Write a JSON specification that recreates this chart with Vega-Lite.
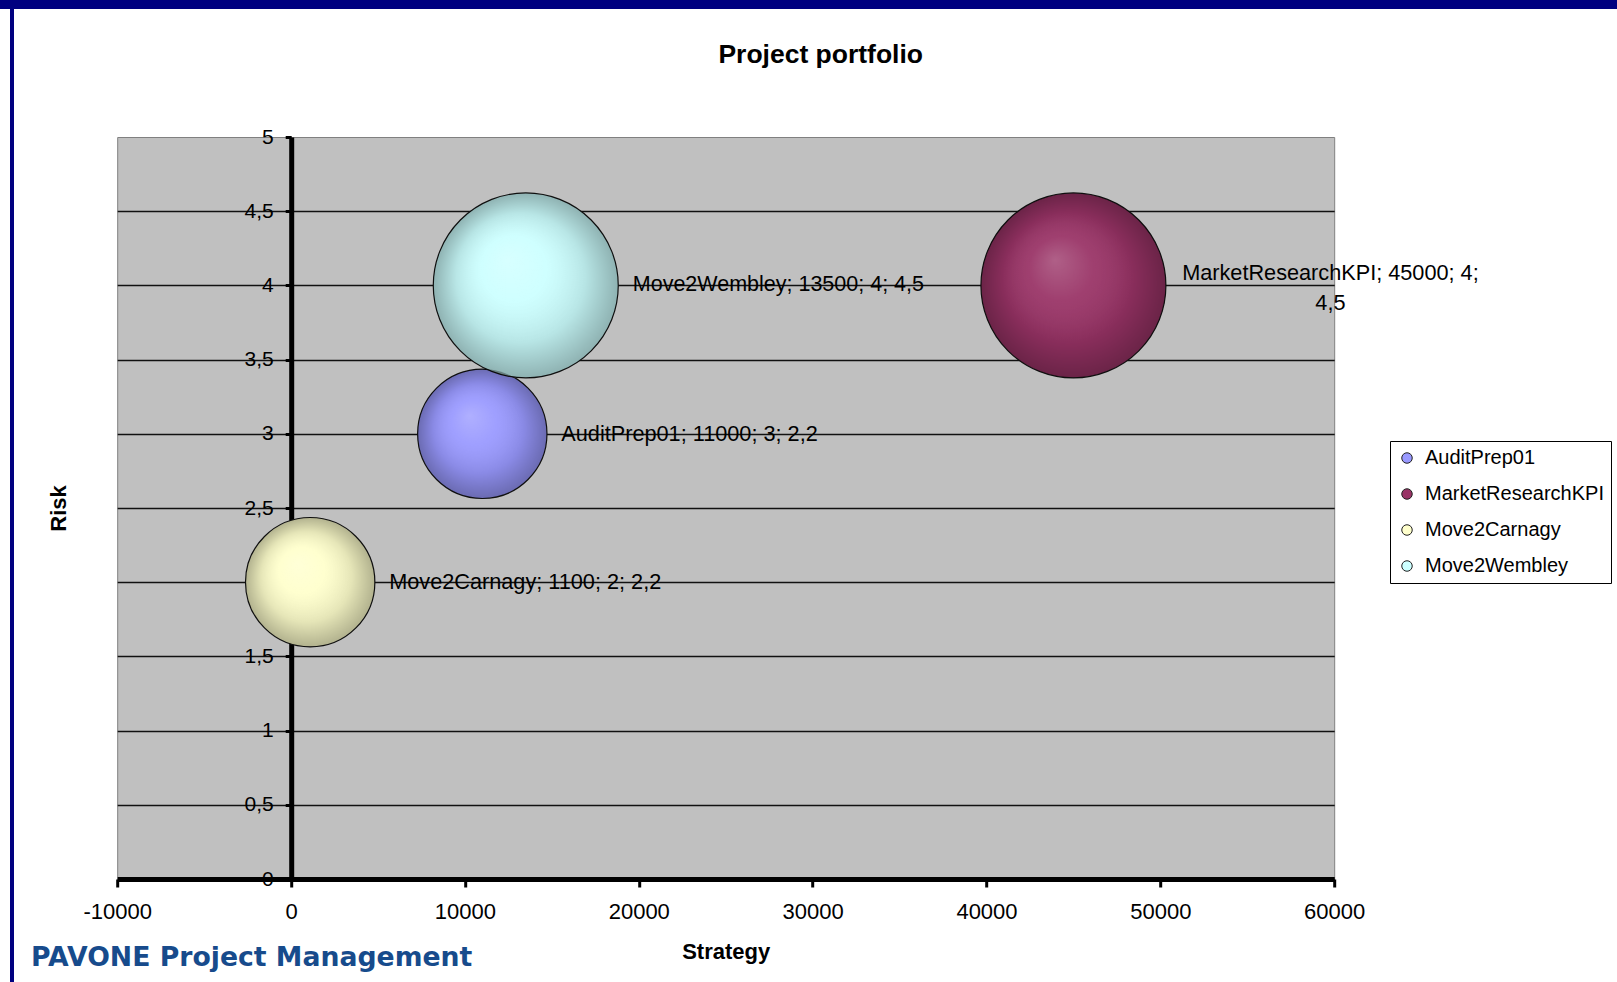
{
  "$schema": "https://vega.github.io/schema/vega-lite/v6.json",
  "padding": 0,
  "background": "white",
  "config": {"font": "Liberation Sans", "view": {"stroke": null}},
  "spacing": 0,
  "vconcat": [
    {
      "width": 1617, "height": 9,
      "data": {"values": []},
      "mark": "rect",
      "view": {"fill": "#000080", "stroke": null}
    },
    {
      "columns": 2,
      "bounds": "flush",
      "spacing": {"row": 0, "column": 117.2},
      "title": {"text": "PAVONE Project Management", "orient": "bottom", "anchor": "start", "frame": "bounds", "offset": -16, "dx": 31, "baseline": "alphabetic", "font": "DejaVu Sans", "fontSize": 26.7, "fontWeight": "bold", "color": "#174b8c"},
      "concat": [
        {
          "spacing": 0,
          "hconcat": [
            {"width": 10, "height": 128, "data": {"values": []}, "mark": "rect", "view": {"stroke": null}},
            {"width": 4, "height": 128, "data": {"values": []}, "mark": "rect", "view": {"fill": "#000080", "stroke": null}}
          ]
        },
        {"width": 1217, "height": 128, "data": {"values": []}, "mark": "rect", "view": {"stroke": null}},
        {
          "spacing": 0,
          "hconcat": [
            {"width": 10, "height": 845, "data": {"values": []}, "mark": "rect", "view": {"stroke": null}},
            {"width": 4, "height": 845, "data": {"values": []}, "mark": "rect", "view": {"fill": "#000080", "stroke": null}}
          ]
        },
        {
          "width": 1217,
          "height": 742,
          "view": {"fill": "#c0c0c0", "stroke": "#808080", "strokeWidth": 1},
          "title": {"text": "Project portfolio", "anchor": "middle", "frame": "group", "dx": 95, "baseline": "bottom", "offset": 31, "fontSize": 26.5, "fontWeight": "bold", "color": "black"},
          "data": {"values": [
            {"name": "AuditPrep01", "strategy": 11000, "risk": 3, "size": 2.2, "label": "AuditPrep01; 11000; 3; 2,2"},
            {"name": "MarketResearchKPI", "strategy": 45000, "risk": 4, "size": 4.5, "label": "MarketResearchKPI; 45000; 4;\n4,5"},
            {"name": "Move2Carnagy", "strategy": 1100, "risk": 2, "size": 2.2, "label": "Move2Carnagy; 1100; 2; 2,2"},
            {"name": "Move2Wembley", "strategy": 13500, "risk": 4, "size": 4.5, "label": "Move2Wembley; 13500; 4; 4,5"}
          ]},
          "encoding": {
            "x": {"field": "strategy", "type": "quantitative",
              "scale": {"domain": [-10000, 60000], "nice": false, "zero": false},
              "axis": {"title": "Strategy", "values": [-10000, 0, 10000, 20000, 30000, 40000, 50000, 60000],
                "labelExpr": "datum.value < 0 ? '-' + abs(datum.value) : '' + datum.value",
                "grid": false, "domainColor": "black", "domainWidth": 5, "tickColor": "black", "tickWidth": 3, "tickSize": 8,
                "labelFontSize": 22, "labelColor": "black", "labelPadding": 14, "labelFlush": false, "labelOverlap": false, "labelBound": false,
                "titleFontSize": 22, "titleFontWeight": "bold", "titleColor": "black", "titleY": 72, "titleBaseline": "middle"}},
            "y": {"field": "risk", "type": "quantitative",
              "scale": {"domain": [0, 5], "nice": false},
              "axis": {"title": "Risk", "offset": -174, "values": [0, 0.5, 1, 1.5, 2, 2.5, 3, 3.5, 4, 4.5, 5],
                "labelExpr": "replace('' + datum.value, '.', ',')",
                "grid": true, "gridColor": {"condition": {"test": "datum.value === 5", "value": "transparent"}, "value": "#111111"}, "gridWidth": 1.4,
                "domainColor": "black", "domainWidth": 5, "tickColor": "black", "tickWidth": 3, "tickSize": 6,
                "labelFontSize": 21, "labelColor": "black", "labelPadding": 12, "labelFlush": false, "labelOverlap": false, "labelBound": false,
                "titleFontSize": 22, "titleFontWeight": "bold", "titleColor": "black", "titleX": -233, "titleY": 371, "titleAngle": 270, "titleAlign": "center", "titleBaseline": "middle"}}
          },
          "layer": [
            {
              "mark": {"type": "point", "shape": "circle", "filled": true, "opacity": 1, "stroke": "#111111", "strokeWidth": 1.2},
              "encoding": {
                "color": {"field": "name", "type": "nominal",
                  "scale": {"domain": ["AuditPrep01", "MarketResearchKPI", "Move2Carnagy", "Move2Wembley"], "range": ["#9999ff", "#993366", "#ffffcc", "#ccffff"]},
                  "legend": {"title": null, "orient": "none", "legendX": 1390, "legendY": 441, "fillColor": "white", "strokeColor": "black", "padding": 7,
                    "labelFontSize": 20, "labelColor": "black", "labelFont": "Liberation Sans", "rowPadding": 16, "labelOffset": 8,
                    "symbolType": "circle", "symbolSize": 110, "symbolStrokeColor": "#222222", "symbolStrokeWidth": 1, "labelLimit": 300}},
                "size": {"field": "size", "type": "quantitative", "scale": {"domain": [0, 4.5], "range": [0, 34225]}, "legend": null}
              }
            },
            {
              "mark": {"type": "point", "shape": "circle", "filled": true, "opacity": 1, "strokeWidth": 0,
                "fill": {"gradient": "radial", "x1": 0.4, "y1": 0.36, "r1": 0, "x2": 0.5, "y2": 0.5, "r2": 0.5,
                  "stops": [
                    {"offset": 0, "color": "rgba(255,255,255,0.22)"},
                    {"offset": 0.35, "color": "rgba(255,255,255,0.06)"},
                    {"offset": 0.7, "color": "rgba(0,0,0,0.1)"},
                    {"offset": 1, "color": "rgba(0,0,0,0.3)"}
                  ]}},
              "encoding": {
                "size": {"field": "size", "type": "quantitative", "scale": {"domain": [0, 4.5], "range": [0, 34225]}, "legend": null}
              }
            },
            {
              "transform": [{"filter": "datum.size < 3"}],
              "mark": {"type": "text", "align": "left", "baseline": "middle", "dx": 79, "fontSize": 21.7, "color": "black"},
              "encoding": {"text": {"field": "label"}}
            },
            {
              "transform": [{"filter": "datum.name === 'Move2Wembley'"}],
              "mark": {"type": "text", "align": "left", "baseline": "middle", "dx": 107, "fontSize": 21.5, "color": "black"},
              "encoding": {"text": {"field": "label"}}
            },
            {
              "transform": [{"filter": "datum.name === 'MarketResearchKPI'"}],
              "mark": {"type": "text", "align": "center", "baseline": "middle", "dx": 257, "dy": -12.5, "fontSize": 21.7, "lineHeight": 30, "lineBreak": "\n", "color": "black"},
              "encoding": {"text": {"field": "label"}}
            }
          ]
        }
      ]
    }
  ]
}
